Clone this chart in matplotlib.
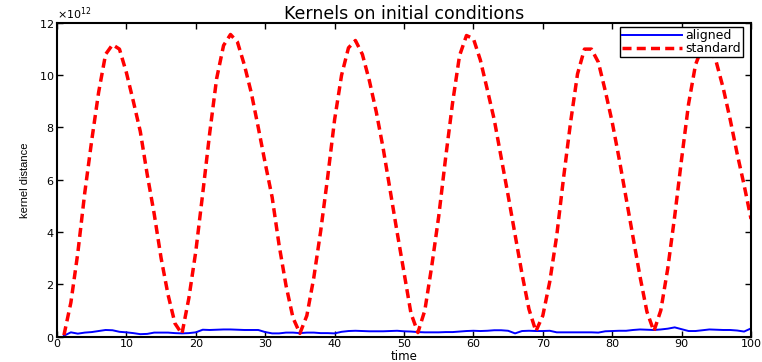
import numpy as np
import matplotlib.pyplot as plt
from matplotlib.ticker import ScalarFormatter

plt.rcParams['font.family'] = ['DejaVu Sans']

# time steps 1..100
time = np.arange(1, 101)

# kernel distance, units of 1e12
standard = [0.05, 1.3, 3.2, 5.5, 7.5, 9.35, 10.8, 11.17, 11.0, 10.1,
            9.0, 7.85, 6.2, 4.7, 3.0, 1.6, 0.5, 0.1, 1.47, 3.26,
            5.48, 7.78, 9.87, 11.14, 11.56, 11.27, 10.39, 9.32, 8.0, 6.63,
            5.33, 3.5, 1.95, 0.72, 0.12, 0.8, 2.25, 4.05, 6.1, 8.3,
            10.0, 11.05, 11.33, 10.8, 9.8, 8.6, 7.2, 5.6, 4.0, 2.45,
            0.89, 0.15, 1.0, 2.7, 4.6, 6.85, 8.95, 10.75, 11.52, 11.4,
            10.58, 9.45, 8.3, 6.85, 5.4, 3.9, 2.4, 1.05, 0.2, 0.8,
            2.1, 3.85, 6.1, 8.2, 10.05, 11.0, 11.0, 10.5, 9.4, 8.2,
            6.8, 5.3, 3.8, 2.3, 0.95, 0.2, 1.0, 2.6, 4.6, 6.8,
            8.9, 10.4, 11.1, 11.1, 10.5, 9.5, 8.3, 7.0, 5.8, 4.5]

aligned = [0.03, 0.16, 0.11, 0.15, 0.17, 0.21, 0.25, 0.24, 0.18, 0.16,
           0.13, 0.09, 0.1, 0.15, 0.15, 0.15, 0.13, 0.12, 0.13, 0.16,
           0.26, 0.25, 0.26, 0.27, 0.27, 0.26, 0.25, 0.25, 0.25, 0.17,
           0.12, 0.12, 0.15, 0.15, 0.13, 0.15, 0.15, 0.13, 0.13, 0.12,
           0.18, 0.21, 0.22, 0.21, 0.2, 0.2, 0.2, 0.21, 0.22, 0.2,
           0.19, 0.17, 0.16, 0.16, 0.16, 0.17, 0.17, 0.19, 0.21, 0.22,
           0.21, 0.22, 0.24, 0.24, 0.22, 0.12, 0.21, 0.22, 0.21, 0.21,
           0.22, 0.16, 0.16, 0.16, 0.16, 0.16, 0.16, 0.15, 0.2, 0.21,
           0.22, 0.22, 0.25, 0.27, 0.26, 0.25, 0.27, 0.3, 0.35, 0.28,
           0.21, 0.21, 0.24, 0.27, 0.26, 0.25, 0.25, 0.23, 0.19, 0.31]

scale = 1e12
std = np.array(standard) * scale
ali = np.array(aligned) * scale

fig = plt.figure(figsize=(7.62, 3.62), dpi=100)
ax = fig.add_axes([0.0748, 0.0704, 0.9108, 0.8661])

ax.plot(time, ali, color='#0000ff', lw=1.4, label='aligned')
ax.plot(time, std, color='#ff0000', lw=2.5, ls=(0, (2.6, 1.5)), label='standard')

ax.set_xlim(0, 100)
ax.set_ylim(0, 12e12)
ax.set_xticks(np.arange(0, 101, 10))
ax.set_yticks(np.arange(0, 12.1, 2) * scale)

fmt = ScalarFormatter(useMathText=True)
fmt.set_powerlimits((12, 12))
ax.yaxis.set_major_formatter(fmt)
ax.yaxis.get_offset_text().set_fontsize(8)

ax.tick_params(direction='in', top=True, right=True, length=4, width=1,
               labelsize=8, pad=2)
for s in ax.spines.values():
    s.set_linewidth(1.5)

ax.set_title('Kernels on initial conditions', fontsize=12.5, pad=3)
ax.set_xlabel('time', fontsize=8.5)
ax.xaxis.set_label_coords(0.5, -0.043)
ax.set_ylabel('kernel distance', fontsize=8, labelpad=6,
              family='Liberation Sans')

leg = ax.legend(loc='upper right', bbox_to_anchor=(0.9885, 0.987),
                fontsize=9, fancybox=False, framealpha=1,
                edgecolor='black', borderpad=0.15, labelspacing=0.0,
                handlelength=4.8, handletextpad=0.3, borderaxespad=0)
leg.get_frame().set_linewidth(1.0)

fig.savefig('out.png', dpi=100)
